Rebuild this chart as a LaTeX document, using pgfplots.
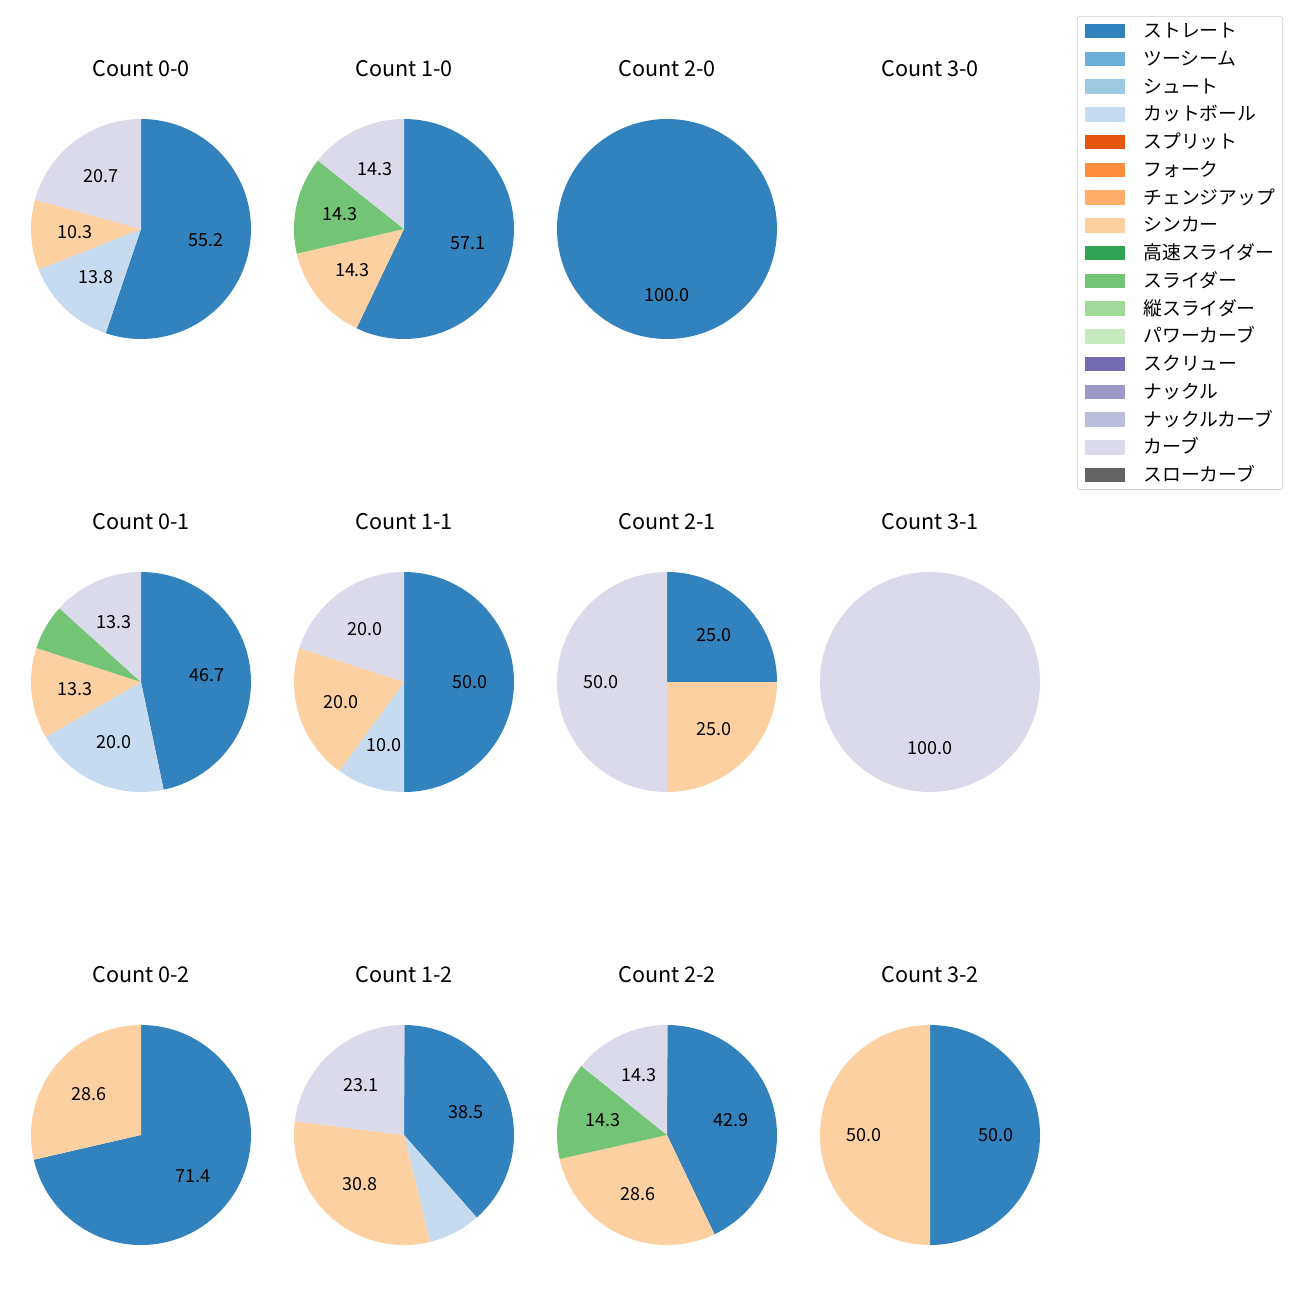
\documentclass[border=0pt]{standalone}
\usepackage{pgfplots}
\pgfplotsset{compat=1.18}
\usepackage{pgfplotstable}
\usepackage{fontspec}
\setmainfont{Noto Sans CJK JP}

% tab20c colours, one per pitch type (legend order)
\definecolor{c0}{HTML}{3182BD}
\definecolor{c1}{HTML}{6BAED6}
\definecolor{c2}{HTML}{9ECAE1}
\definecolor{c3}{HTML}{C6DBEF}
\definecolor{c4}{HTML}{E6550D}
\definecolor{c5}{HTML}{FD8D3C}
\definecolor{c6}{HTML}{FDAE6B}
\definecolor{c7}{HTML}{FDD0A2}
\definecolor{c8}{HTML}{31A354}
\definecolor{c9}{HTML}{74C476}
\definecolor{c10}{HTML}{A1D99B}
\definecolor{c11}{HTML}{C7E9C0}
\definecolor{c12}{HTML}{756BB1}
\definecolor{c13}{HTML}{9E9AC8}
\definecolor{c14}{HTML}{BCBDDC}
\definecolor{c15}{HTML}{DADAEB}
\definecolor{c16}{HTML}{636363}

% share in % per pitch type (rows, legend order) and count (columns)
\pgfplotstableread{
c00 c10 c20 c30 c01 c11 c21 c31 c02 c12 c22 c32
55.2 57.1 100.0 0 46.7 50.0 25.0 0 71.4 38.5 42.9 50.0
0 0 0 0 0 0 0 0 0 0 0 0
0 0 0 0 0 0 0 0 0 0 0 0
13.8 0 0 0 20.0 10.0 0 0 0 7.7 0 0
0 0 0 0 0 0 0 0 0 0 0 0
0 0 0 0 0 0 0 0 0 0 0 0
0 0 0 0 0 0 0 0 0 0 0 0
10.3 14.3 0 0 13.3 20.0 25.0 0 28.6 30.8 28.6 50.0
0 0 0 0 0 0 0 0 0 0 0 0
0 14.3 0 0 6.7 0 0 0 0 0 14.3 0
0 0 0 0 0 0 0 0 0 0 0 0
0 0 0 0 0 0 0 0 0 0 0 0
0 0 0 0 0 0 0 0 0 0 0 0
0 0 0 0 0 0 0 0 0 0 0 0
0 0 0 0 0 0 0 0 0 0 0 0
20.7 14.3 0 0 13.3 20.0 50.0 100.0 0 23.1 14.3 0
0 0 0 0 0 0 0 0 0 0 0 0
}\piedata

\newcommand\lblfont{\fontsize{13}{15.6}\selectfont}
\newcommand\legfont{\fontsize{13.6}{16}\selectfont}

% wedges clockwise from 12 o'clock, labels at 0.6 R when >= 10 %
\newcommand\drawpie[1]{%
  \pgfplotsextra{%
    \gdef\pieang{90}%
    \pgfplotstableforeachcolumnelement{#1}\of\piedata\as\pv{%
      \ifdim\pv pt>0pt
        \pgfmathsetmacro\pieend{\pieang-3.6*\pv}%
        \pgfmathsetmacro\piemid{(\pieang+\pieend)/2}%
        \edef\pcol{c\pgfplotstablerow}%
        \fill[\pcol] (axis cs:0,0) -- ++(\pieang:1.1in)
          arc[start angle=\pieang, end angle=\pieend, radius=1.1in] -- cycle;
        \ifdim\pv pt<10pt\else
          \node[font=\lblfont, inner sep=0pt]
            at (axis cs:{0.6*cos(\piemid)},{0.6*sin(\piemid)}) {\pv};
        \fi
        \xdef\pieang{\pieend}%
      \fi
    }%
  }%
}

\pgfplotsset{
  pie/.style={
    scale only axis, width=2.75in, height=2.75in,
    xmin=-1.25, xmax=1.25, ymin=-1.25, ymax=1.25,
    hide axis, anchor=center,
    title style={at={(0.5,1)}, anchor=base, yshift=0.065in,
      font=\fontsize{15.6}{18}\selectfont},
  },
}

\begin{document}
\begin{tikzpicture}
\path[use as bounding box] (0,0) rectangle (13in,-13in);

\begin{axis}[pie, at={(1.41in,-2.29in)}, title={Count 0-0}]
\drawpie{c00}
\end{axis}
\begin{axis}[pie, at={(4.04in,-2.29in)}, title={Count 1-0}]
\drawpie{c10}
\end{axis}
\begin{axis}[pie, at={(6.67in,-2.29in)}, title={Count 2-0}]
\drawpie{c20}
\end{axis}
\begin{axis}[pie, at={(9.30in,-2.29in)}, title={Count 3-0}]
\drawpie{c30}
\end{axis}

\begin{axis}[pie, at={(1.41in,-6.82in)}, title={Count 0-1}]
\drawpie{c01}
\end{axis}
\begin{axis}[pie, at={(4.04in,-6.82in)}, title={Count 1-1}]
\drawpie{c11}
\end{axis}
\begin{axis}[pie, at={(6.67in,-6.82in)}, title={Count 2-1}]
\drawpie{c21}
\end{axis}
\begin{axis}[pie, at={(9.30in,-6.82in)}, title={Count 3-1}]
\drawpie{c31}
\end{axis}

\begin{axis}[pie, at={(1.41in,-11.35in)}, title={Count 0-2}]
\drawpie{c02}
\end{axis}
\begin{axis}[pie, at={(4.04in,-11.35in)}, title={Count 1-2}]
\drawpie{c12}
\end{axis}
\begin{axis}[pie, at={(6.67in,-11.35in)}, title={Count 2-2}]
\drawpie{c22}
\end{axis}
\begin{axis}[pie, at={(9.30in,-11.35in)}, title={Count 3-2}]
\drawpie{c32}
\end{axis}

% legend
\begin{axis}[
  hide axis, scale only axis, width=1in, height=1in,
  xmin=0, xmax=1, ymin=0, ymax=1,
  at={(12.83in,-0.16in)}, anchor=north east,
  legend cell align=left,
  legend image code/.code={\fill[#1, sharp corners] (0in,-0.068in) rectangle (0.39in,0.068in);},
  legend style={at={(1,1)}, anchor=north east,
    draw=black!20, fill=white, rounded corners=2pt,
    font=\legfont, inner xsep=0.075in, inner ysep=0.075in,
    row sep=0.136in, column sep=0.19in,
    nodes={inner sep=0pt, text height=0.136in, text depth=0pt}},
]
\addlegendimage{c0}\addlegendentry{ストレート}
\addlegendimage{c1}\addlegendentry{ツーシーム}
\addlegendimage{c2}\addlegendentry{シュート}
\addlegendimage{c3}\addlegendentry{カットボール}
\addlegendimage{c4}\addlegendentry{スプリット}
\addlegendimage{c5}\addlegendentry{フォーク}
\addlegendimage{c6}\addlegendentry{チェンジアップ}
\addlegendimage{c7}\addlegendentry{シンカー}
\addlegendimage{c8}\addlegendentry{高速スライダー}
\addlegendimage{c9}\addlegendentry{スライダー}
\addlegendimage{c10}\addlegendentry{縦スライダー}
\addlegendimage{c11}\addlegendentry{パワーカーブ}
\addlegendimage{c12}\addlegendentry{スクリュー}
\addlegendimage{c13}\addlegendentry{ナックル}
\addlegendimage{c14}\addlegendentry{ナックルカーブ}
\addlegendimage{c15}\addlegendentry{カーブ}
\addlegendimage{c16}\addlegendentry{スローカーブ}
\end{axis}
\end{tikzpicture}
\end{document}
